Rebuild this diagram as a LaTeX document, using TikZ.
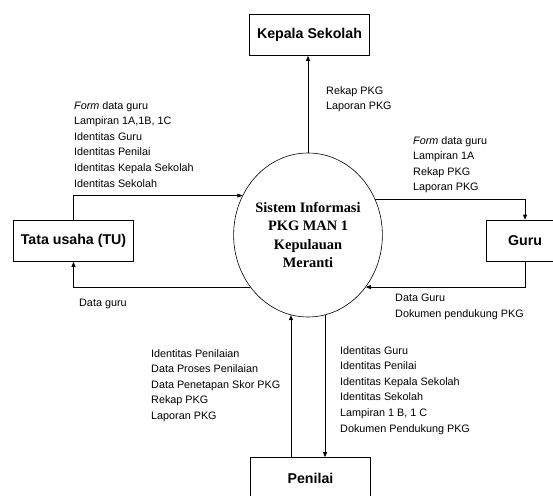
\documentclass[tikz,border=0pt]{standalone}
\usepackage{fontspec}
\setmainfont{Liberation Sans}
\newfontfamily\timesfont{Liberation Serif}
\usetikzlibrary{arrows.meta,shapes.geometric}

\begin{document}
\begin{tikzpicture}[x=1pt,y=-1pt]
  \tikzstyle{entity}=[draw,line width=0.7pt,minimum width=120pt,minimum height=41pt,inner sep=0pt,font=\fontsize{14.2}{17}\selectfont\bfseries]
  \tikzstyle{process}=[draw,ellipse,line width=0.6pt,minimum width=130pt,minimum height=164pt,inner sep=0pt,align=center,font=\timesfont\bfseries\fontsize{14.4}{18.3}\selectfont]
  \tikzstyle{flow}=[line width=0.7pt,-{Triangle[length=5pt,width=4pt]}]
  \tikzstyle{flowtext}=[anchor=north west,inner sep=0pt,align=left,font=\fontsize{10.8}{15.6}\selectfont]
  \useasboundingbox (0,0) rectangle (553,495);
  % proses dan entitas
  \node[process] (sys) at (308,235) {Sistem Informasi\\PKG MAN 1\\Kepulauan\\Meranti};
  \node[entity] (kepala) at (309.5,35) {Kepala Sekolah};
  \node[entity] (tu) at (73.5,241) {Tata usaha (TU)};
  \node[entity,minimum width=78pt] (guru) at (525,240.5) {Guru};
  \node[entity] (penilai) at (310.5,478) {Penilai};
  % aliran data
  \draw[flow] (tu.north) |- (sys.149);
  \draw[flow] (sys.north) -- (sys.north |- kepala.south);
  \draw[flow] (sys.28) -| (guru.north);
  \draw[flow] (guru.south) |- (sys.-42);
  \draw[flow] (sys.222) -| (tu.south);
  \draw[flow] (penilai.north -| sys.258) -- (sys.258);
  \draw[flow] (sys.282) -- (sys.282 |- penilai.north);
  % keterangan
  \node[flowtext] (ltu) at (74,101) {\textit{Form} data guru\\Lampiran 1A,1B, 1C\\Identitas Guru\\Identitas Penilai\\Identitas Kepala Sekolah\\Identitas Sekolah};
  \node[flowtext] (lkepala) at (326,86) {Rekap PKG\\Laporan PKG};
  \node[flowtext] (lguru) at (413,136) {\textit{Form} data guru\\Lampiran 1A\\Rekap PKG\\Laporan PKG};
  \node[flowtext] (lketu) at (79,299) {Data guru};
  \node[flowtext] (ldariguru) at (395,294) {Data Guru\\Dokumen pendukung PKG};
  \node[flowtext] (ldaripenilai) at (151,349) {Identitas Penilaian\\Data Proses Penilaian\\Data Penetapan Skor PKG\\Rekap PKG\\Laporan PKG};
  \node[flowtext] (lkepenilai) at (340,346) {Identitas Guru\\Identitas Penilai\\Identitas Kepala Sekolah\\Identitas Sekolah\\Lampiran 1 B, 1 C\\Dokumen Pendukung PKG};
\end{tikzpicture}
\end{document}
